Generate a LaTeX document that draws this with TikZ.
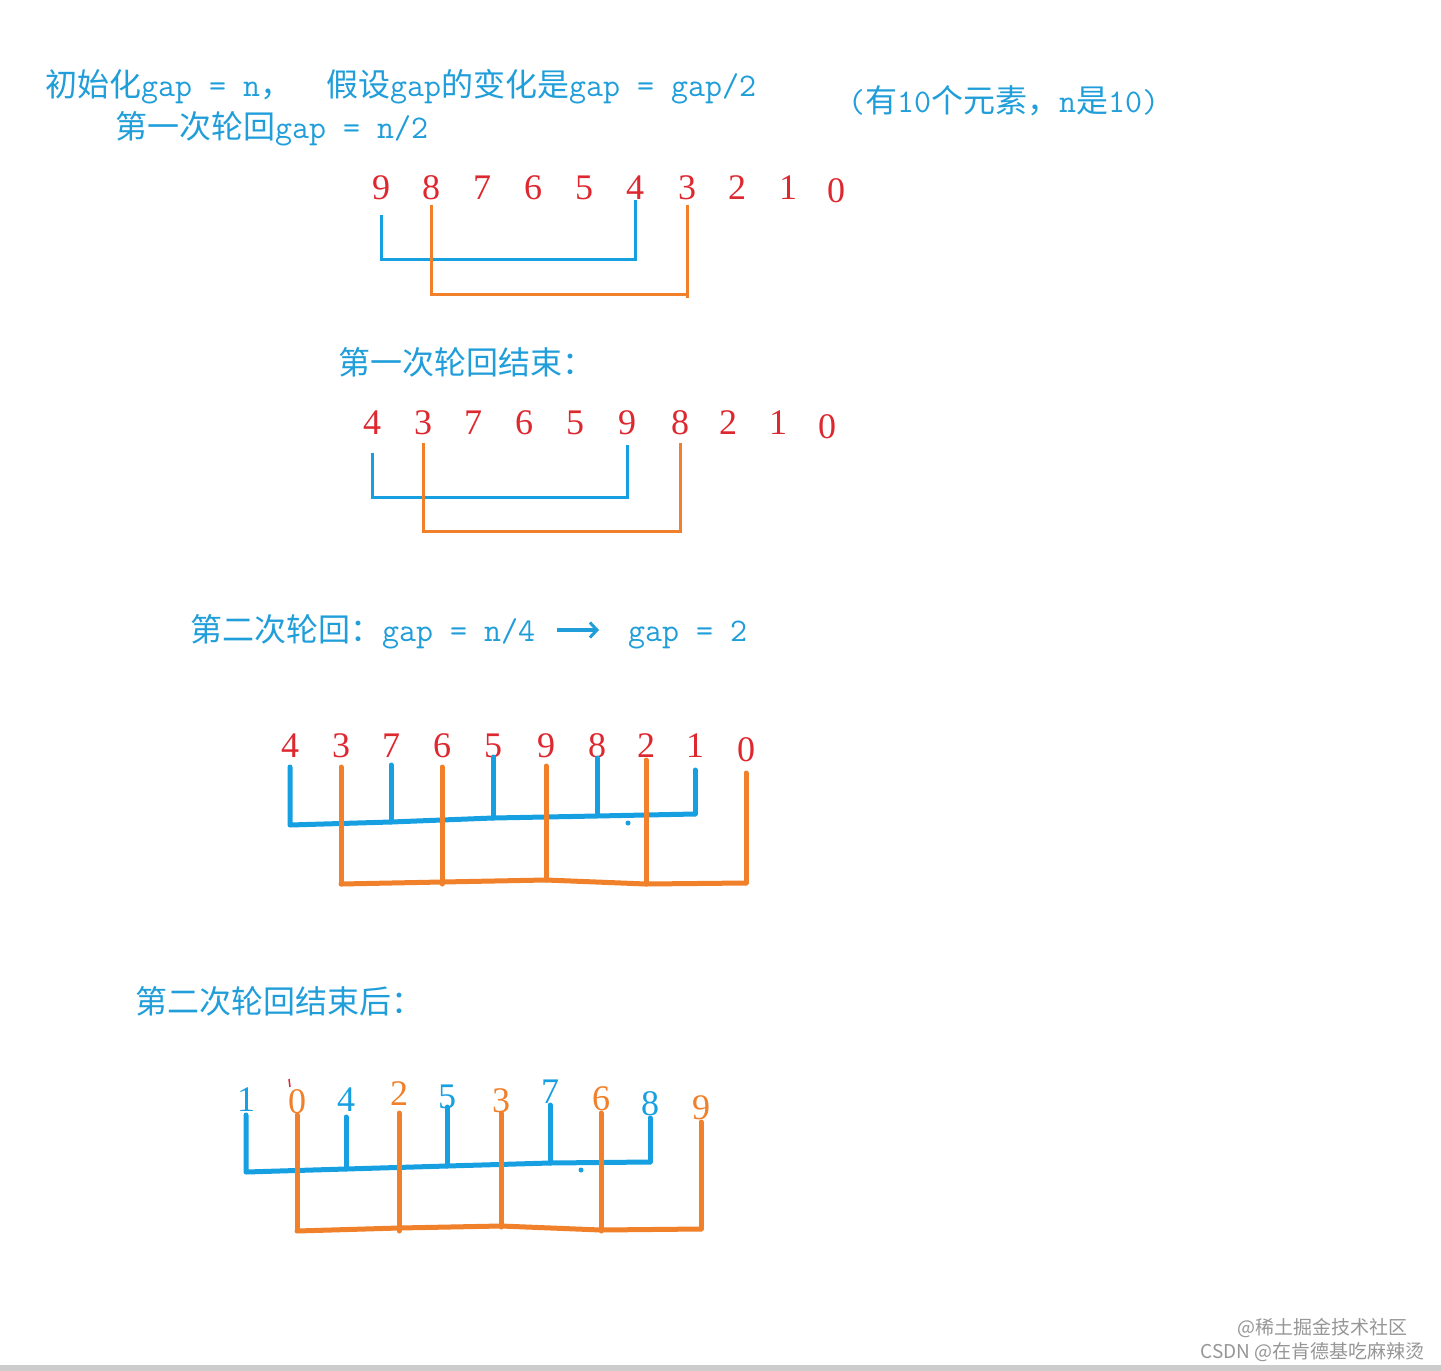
\documentclass[tikz,border=0pt]{standalone}
\usepackage{fontspec}
\setmainfont{Liberation Serif}
\newfontfamily\cjk{Noto Sans CJK SC}
\usetikzlibrary{arrows.meta}
\definecolor{txtblue}{RGB}{32,158,218}
\definecolor{lineblue}{RGB}{22,160,225}
\definecolor{org}{RGB}{240,128,42}
\definecolor{dred}{RGB}{222,40,48}
\definecolor{wm}{RGB}{150,150,150}
\newcommand\zhtxt[1]{{\cjk #1}}
\newcommand\mtxt[1]{{\fontsize{33}{38}\selectfont\ttfamily #1}}
\begin{document}
\begin{tikzpicture}[x=1pt,y=-1pt,
  title/.style={anchor=base west,inner sep=0pt,text=txtblue,font=\fontsize{32}{38}\selectfont},
  dig/.style={anchor=base,inner sep=0pt,text=dred,font=\fontsize{36}{40}\selectfont},
  bdig/.style={dig,text=lineblue},
  odig/.style={dig,text=org},
  thinb/.style={draw=lineblue,line width=3pt},
  thino/.style={draw=org,line width=3pt},
  handb/.style={draw=lineblue,line width=5pt,line cap=round,line join=round},
  hando/.style={draw=org,line width=5pt,line cap=round,line join=round},
  wmark/.style={anchor=base east,inner sep=0pt,text=wm,font=\fontsize{19}{22}\selectfont\cjk}]
\fill[white] (0,0) rectangle (1441,1371);
\useasboundingbox (0,0) rectangle (1441,1371);
\fill[black!20] (0,1365) rectangle (1441,1371);

% titles
\node[title] (t1) at (45,96) {\zhtxt{初始化}\mtxt{gap = n}\zhtxt{，}\mtxt{\ \ }\zhtxt{假设}\mtxt{gap}\zhtxt{的变化是}\mtxt{gap = gap/2}};
\node[title] (t2) at (115,138) {\zhtxt{第一次轮回}\mtxt{gap = n/2}};
\node[title] (t0) at (848,112) {\mtxt{(}\zhtxt{有}\mtxt{10}\zhtxt{个元素，}\mtxt{n}\zhtxt{是}\mtxt{10)}};
\node[title] (t4) at (338,374) {\zhtxt{第一次轮回结束：}};
\node[title] (t3a) at (190,641) {\zhtxt{第二次轮回：}\mtxt{gap = n/4}};
\node[title] (t3b) at (628,641) {\mtxt{gap = 2}};
\node[title] (t5) at (135,1013) {\zhtxt{第二次轮回结束后：}};
\coordinate (arrS) at (557,630);
\coordinate (arrE) at (599,630);
\draw[draw=txtblue,line width=3.5pt,-{Straight Barb[length=7pt,width=15pt,line width=3pt]}] (arrS) -- (arrE);

% row 1
\foreach \v/\x [count=\i] in {9/381,8/431,7/482,6/533,5/584,4/635,3/687,2/737,1/788}
  \node[dig] (a\i) at (\x,199) {\v};
\node[dig] (a10) at (836,202) {0};
\draw[thinb] (a1 |- 0,215) -- (a1 |- 0,259) -- (a6 |- 0,259) -- (a6 |- 0,200);
\draw[thino] (a2 |- 0,205) -- (a2 |- 0,294) -- (a7 |- 0,294) -- (a7 |- 0,298);
\draw[thino] (a7 |- 0,205) -- (a7 |- 0,298);

% row 2
\foreach \v/\x [count=\i] in {4/372,3/423,7/473,6/524,5/575,9/627,8/680,2/728,1/778}
  \node[dig] (b\i) at (\x,434) {\v};
\node[dig] (b10) at (827,438) {0};
\draw[thinb] (b1 |- 0,453) -- (b1 |- 0,497) -- (b6 |- 0,497) -- (b6 |- 0,445);
\draw[thino] (b2 |- 0,443) -- (b2 |- 0,531) -- (b7 |- 0,531) -- (b7 |- 0,443);

% row 3
\foreach \v/\x [count=\i] in {4/290,3/341,7/391,6/442,5/493,9/546,8/597,2/646,1/695}
  \node[dig] (c\i) at (\x,757) {\v};
\node[dig] (c10) at (746,761) {0};
\draw[handb] (c1 |- 0,767) -- (c1 |- 0,825) -- (c3 |- 0,822) -- (c5 |- 0,818) -- (c7 |- 0,816) -- (c9 |- 0,814);
\draw[handb] (c3 |- 0,765) -- (c3 |- 0,822);
\draw[handb] (c5 |- 0,757) -- (c5 |- 0,818);
\draw[handb] (c7 |- 0,758) -- (c7 |- 0,815);
\draw[handb] (c9 |- 0,770) -- (c9 |- 0,814);
\fill[lineblue] (628,823) circle (2.5);
\draw[hando] (c2 |- 0,767) -- (c2 |- 0,884);
\draw[hando] (c4 |- 0,767) -- (c4 |- 0,884);
\draw[hando] (c6 |- 0,766) -- (c6 |- 0,880);
\draw[hando] (c8 |- 0,760) -- (c8 |- 0,884);
\draw[hando] (c10 |- 0,773) -- (c10 |- 0,883);
\draw[hando] (c2 |- 0,884) -- (c4 |- 0,882) -- (c6 |- 0,880) -- (c8 |- 0,884) -- (c10 |- 0,883);

% row 4
\node[bdig] (d1) at (246,1111) {1};
\node[odig] (d2) at (297,1113) {0};
\node[bdig] (d3) at (346,1111) {4};
\node[odig] (d4) at (399,1105) {2};
\node[bdig] (d5) at (447,1108) {5};
\node[odig] (d6) at (501,1112) {3};
\node[bdig] (d7) at (550,1103) {7};
\node[odig] (d8) at (601,1110) {6};
\node[bdig] (d9) at (650,1115) {8};
\node[odig] (d10) at (701,1119) {9};
\draw[dred,line width=1.5pt] (289,1079) -- (290,1087);
\draw[handb] (d1 |- 0,1115) -- (d1 |- 0,1172) -- (d3 |- 0,1169) -- (d5 |- 0,1166) -- (d7 |- 0,1163) -- (d9 |- 0,1162);
\draw[handb] (d3 |- 0,1117) -- (d3 |- 0,1169);
\draw[handb] (d5 |- 0,1107) -- (d5 |- 0,1166);
\draw[handb] (d7 |- 0,1105) -- (d7 |- 0,1163);
\draw[handb] (d9 |- 0,1118) -- (d9 |- 0,1162);
\fill[lineblue] (581,1170) circle (2.5);
\draw[hando] (d2 |- 0,1115) -- (d2 |- 0,1230);
\draw[hando] (d4 |- 0,1113) -- (d4 |- 0,1231);
\draw[hando] (d6 |- 0,1113) -- (d6 |- 0,1227);
\draw[hando] (d8 |- 0,1113) -- (d8 |- 0,1231);
\draw[hando] (d10 |- 0,1122) -- (d10 |- 0,1229);
\draw[hando] (d2 |- 0,1231) -- (d4 |- 0,1228) -- (d6 |- 0,1226) -- (d8 |- 0,1230) -- (d10 |- 0,1229);

% watermark
\node[wmark] (w1) at (1408,1334) {@稀土掘金技术社区};
\node[wmark] (w2) at (1425,1358) {CSDN @在肯德基吃麻辣烫};
\end{tikzpicture}
\end{document}
